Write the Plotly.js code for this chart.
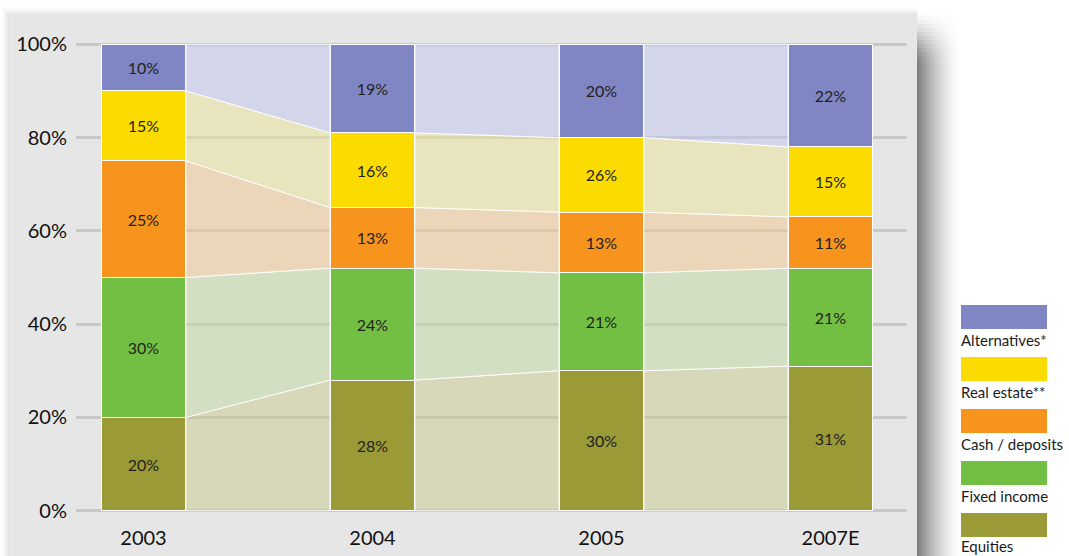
<!DOCTYPE html>
<html>
<head>
<meta charset="utf-8">
<script src="https://cdn.plot.ly/plotly-3.0.1.min.js"></script>
<style>html,body{margin:0;padding:0;background:#fff;}#chart{width:1069px;height:556px;}</style>
</head>
<body>
<div id="chart"></div>
<script>
// ---- data ----
const years = ['2003', '2004', '2005', '2007E'];
const equities = [20, 28, 30, 31];
const fixedIncome = [30, 24, 21, 21];
const cash = [25, 13, 13, 11];
const realEstate = [15, 16, 16, 15];
const alternatives = [10, 19, 20, 22];
// labels as printed in the source (2005 real estate is printed as 26%)
const equitiesLabels = ['20%', '28%', '30%', '31%'];
const fixedIncomeLabels = ['30%', '24%', '21%', '21%'];
const cashLabels = ['25%', '13%', '13%', '11%'];
const realEstateLabels = ['15%', '16%', '26%', '15%'];
const alternativesLabels = ['10%', '19%', '20%', '22%'];
const seriesNames = ['Equities', 'Fixed income', 'Cash / deposits', 'Real estate**', 'Alternatives*'];
const yTickVals = [0, 20, 40, 60, 80, 100];
const yTickText = ['0%', '20%', '40%', '60%', '80%', '100%'];

// ---- styles ----
const barColors = ['#9a9a37', '#72bf44', '#f7941d', '#fcdc00', '#7f86c3'];
const areaColors = ['rgba(200,200,142,0.5)', 'rgba(192,216,160,0.5)', 'rgba(242,198,142,0.5)', 'rgba(234,226,148,0.5)', 'rgba(192,196,238,0.5)'];
const FONT = 'Lato, "Open Sans", sans-serif';
const barWidth = 0.371;

const series = [equities, fixedIncome, cash, realEstate, alternatives];
const labels = [equitiesLabels, fixedIncomeLabels, cashLabels, realEstateLabels, alternativesLabels];
const xs = years.map((_, i) => i);

// cumulative bottoms/tops
const bottoms = [], tops = [];
let acc = years.map(() => 0);
series.forEach(s => {
  bottoms.push(acc.slice());
  acc = acc.map((v, i) => v + s[i]);
  tops.push(acc.slice());
});

const traces = [];
// connector areas
series.forEach((s, k) => {
  for (let i = 0; i < years.length - 1; i++) {
    const xa = xs[i] + barWidth / 2, xb = xs[i + 1] - barWidth / 2;
    traces.push({
      type: 'scatter', mode: 'lines', fill: 'toself',
      x: [xa, xa, xb, xb, xa],
      y: [bottoms[k][i], tops[k][i], tops[k][i + 1], bottoms[k][i + 1], bottoms[k][i]],
      fillcolor: areaColors[k],
      line: {color: 'rgba(255,255,255,0.85)', width: 1},
      hoverinfo: 'skip', showlegend: false
    });
  }
});
// bars
series.forEach((s, k) => {
  traces.push({
    type: 'bar', x: xs, y: s, width: barWidth, name: seriesNames[k],
    marker: {color: barColors[k], line: {color: '#ffffff', width: 1}},
    text: labels[k], textposition: 'inside', insidetextanchor: 'middle',
    textangle: 0, constraintext: 'none',
    textfont: {family: FONT, size: 16, color: '#231f20'},
    hoverinfo: 'skip', showlegend: false
  });
});

// pixel helpers
const Wt = 1069, Ht = 556, mL = 76, mR = 162, mT = 35, mB = 36;
const Wp = Wt - mL - mR, Hp = Ht - mT - mB;
const px = x => (x - mL) / Wp;
const py = y => (Ht - mB - y) / Hp;

const shapes = [];
// panel shadow (right side), soft top
const nSh = 22;
const topStart = 8, topEnd = 68, rowH = 4;
const smooth = u => { u = Math.max(0, Math.min(1, u)); return u * u * (3 - 2 * u); };
for (let j = 0; j < nSh; j++) {
  const t = j / nSh;
  const fx = 0.5 * Math.pow(1 - t, 1.6);
  for (let y = topStart; y < topEnd; y += rowH) {
    const a = fx * smooth((y + rowH / 2 - topStart) / (topEnd - topStart));
    shapes.push({type: 'rect', xref: 'paper', yref: 'paper', layer: 'below',
      x0: px(917 + j * 2), x1: px(919 + j * 2), y0: py(y + rowH), y1: py(y),
      fillcolor: 'rgba(0,0,0,' + a.toFixed(3) + ')', line: {width: 0}});
  }
  shapes.push({type: 'rect', xref: 'paper', yref: 'paper', layer: 'below',
    x0: px(917 + j * 2), x1: px(919 + j * 2), y0: py(560), y1: py(topEnd),
    fillcolor: 'rgba(0,0,0,' + fx.toFixed(3) + ')', line: {width: 0}});
}
// faint top/left shadow
for (let j = 0; j < 6; j++) {
  const a = 0.03 * (6 - j) / 6;
  shapes.push({type: 'rect', xref: 'paper', yref: 'paper', layer: 'below',
    x0: px(9 - j * 1.5 - 1.5), x1: px(917), y0: py(560), y1: py(15 - j * 1.5 - 1.5),
    fillcolor: 'rgba(0,0,0,' + a.toFixed(3) + ')', line: {width: 0}});
}
// panel
shapes.push({type: 'rect', xref: 'paper', yref: 'paper', layer: 'below',
  x0: px(9), x1: px(917), y0: py(560), y1: py(15),
  fillcolor: '#e6e6e6', line: {width: 0}});

// legend (top to bottom: alternatives first)
const annotations = [];
const legendOrder = [4, 3, 2, 1, 0];
legendOrder.forEach((k, j) => {
  const top = 305 + j * 52;
  shapes.push({type: 'rect', xref: 'paper', yref: 'paper', layer: 'above',
    x0: px(961), x1: px(1047), y0: py(top + 24), y1: py(top),
    fillcolor: barColors[k], line: {width: 0}});
  annotations.push({xref: 'paper', yref: 'paper', x: px(959), y: py(top + 35 - (j === 4 ? 2 : 0)),
    xanchor: 'left', yanchor: 'middle', showarrow: false, text: seriesNames[k],
    font: {family: FONT, size: 15, color: '#1a1a1a'}});
});

const layout = {
  width: Wt, height: Ht,
  margin: {l: mL, r: mR, t: mT, b: mB, pad: 0},
  paper_bgcolor: '#ffffff', plot_bgcolor: 'rgba(0,0,0,0)',
  barmode: 'stack', showlegend: false,
  font: {family: FONT, color: '#1a1a1a'},
  xaxis: {
    range: [-0.2948, 3.334], tickvals: xs, ticktext: years,
    showgrid: false, zeroline: false, showline: false, ticks: '',
    tickfont: {family: FONT, size: 20, color: '#111111'}, ticklabelstandoff: 4,
    fixedrange: true
  },
  yaxis: {
    range: [-2, 102], tickvals: yTickVals, ticktext: yTickText,
    showgrid: true, gridcolor: '#c8c8c8', gridwidth: 3,
    zeroline: false, showline: false, ticks: '',
    tickfont: {family: FONT, size: 20, color: '#111111'}, ticklabelstandoff: 8,
    fixedrange: true
  },
  shapes: shapes, annotations: annotations
};

Plotly.newPlot('chart', traces, layout, {displayModeBar: false, staticPlot: true});
</script>
</body>
</html>
